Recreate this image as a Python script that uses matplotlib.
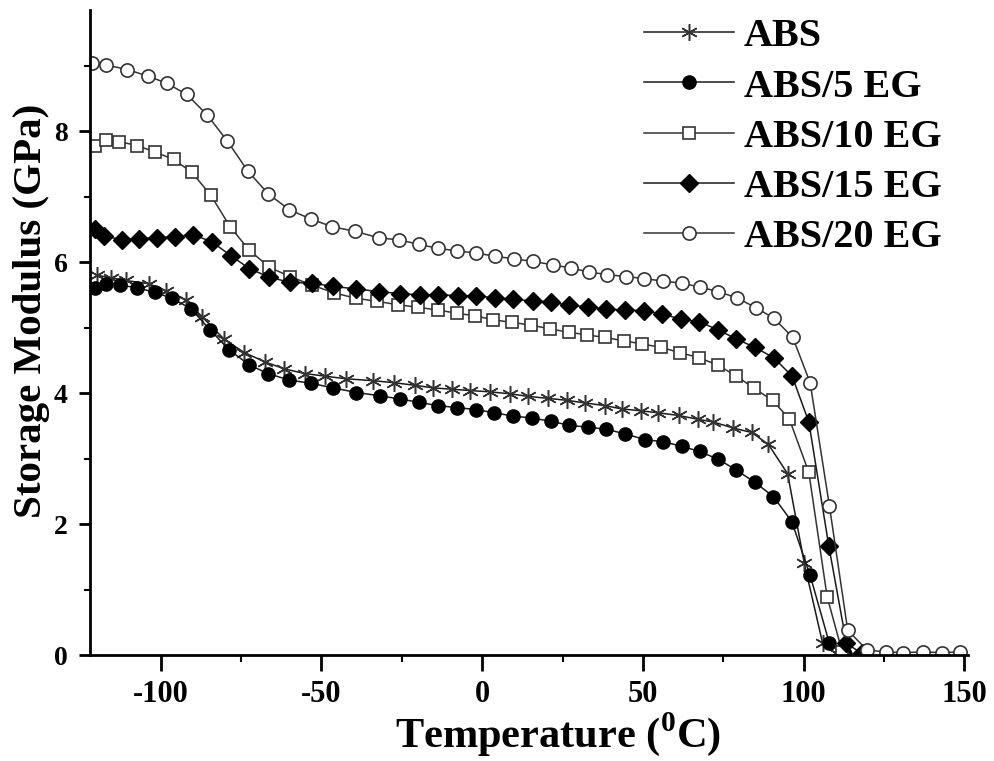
import matplotlib
matplotlib.use("Agg")
import matplotlib.pyplot as plt
from matplotlib.ticker import MultipleLocator

plt.rcParams["font.family"] = ["Liberation Serif", "DejaVu Serif"]
plt.rcParams["font.weight"] = "bold"
plt.rcParams["axes.unicode_minus"] = False
plt.rcParams["mathtext.fontset"] = "custom"
plt.rcParams["mathtext.rm"] = "Liberation Serif:bold"
plt.rcParams["mathtext.bf"] = "Liberation Serif:bold"

# storage modulus (GPa) vs temperature (C)
t_abs = [-119.8, -115.5, -110.9, -103.6, -98.4, -92.2, -87.0, -80.2, -74.0, -67.7, -61.5, -55.2,
         -49.0, -42.5, -33.9, -27.5, -20.9, -15.2, -9.3, -3.8, 2.4, 8.7, 14.4, 20.6, 26.4, 32.1,
         38.1, 43.4, 49.5, 54.7, 61.1, 67.2, 71.9, 77.9, 83.8, 89.0, 95.0, 100.2, 105.9, 110.0]
e_abs = [5.80, 5.76, 5.72, 5.67, 5.56, 5.42, 5.16, 4.82, 4.62, 4.48, 4.37, 4.30,
         4.26, 4.22, 4.19, 4.16, 4.12, 4.08, 4.06, 4.04, 4.02, 3.99, 3.95, 3.92, 3.89, 3.85,
         3.81, 3.76, 3.73, 3.70, 3.66, 3.60, 3.56, 3.47, 3.40, 3.22, 2.77, 1.40, 0.18, 0.03]

t_eg5 = [-120.3, -117.0, -112.7, -107.5, -101.9, -96.6, -90.6, -84.7, -78.7, -72.4, -66.7, -60.0,
         -53.2, -46.3, -39.1, -31.8, -25.5, -19.6, -13.9, -7.9, -2.0, 3.8, 9.7, 15.6, 21.4, 27.1,
         32.9, 38.5, 44.4, 50.6, 56.2, 62.0, 67.6, 73.5, 78.9, 84.8, 90.6, 96.3, 102.0, 108.0, 113.0]
e_eg5 = [5.61, 5.66, 5.65, 5.61, 5.54, 5.45, 5.29, 4.97, 4.66, 4.43, 4.30, 4.20,
         4.15, 4.08, 4.01, 3.96, 3.91, 3.86, 3.81, 3.78, 3.75, 3.70, 3.65, 3.62, 3.57, 3.51,
         3.48, 3.45, 3.38, 3.29, 3.26, 3.19, 3.11, 2.99, 2.83, 2.64, 2.42, 2.04, 1.22, 0.18, 0.02]

t_eg10 = [-120.3, -117.0, -113.0, -107.3, -101.8, -96.0, -90.3, -84.4, -78.4, -72.6, -66.2, -59.7,
          -53.0, -46.0, -39.4, -32.6, -26.2, -19.9, -13.9, -7.9, -2.2, 3.5, 9.2, 15.1, 21.2, 26.9,
          32.6, 38.1, 44.0, 49.8, 55.5, 61.4, 67.5, 73.2, 79.1, 84.4, 90.3, 95.5, 101.6, 107.3, 112.0]
e_eg10 = [7.78, 7.86, 7.84, 7.78, 7.68, 7.57, 7.37, 7.02, 6.54, 6.19, 5.92, 5.78,
          5.65, 5.53, 5.45, 5.40, 5.35, 5.31, 5.27, 5.22, 5.18, 5.12, 5.08, 5.04, 4.98, 4.93,
          4.89, 4.85, 4.80, 4.75, 4.70, 4.62, 4.54, 4.43, 4.26, 4.08, 3.89, 3.61, 2.79, 0.89, 0.05]

t_eg15 = [-120.3, -117.5, -112.0, -106.6, -101.2, -95.5, -89.9, -84.1, -78.2, -72.4, -66.2, -59.7,
          -53.0, -46.4, -39.1, -32.1, -25.5, -19.3, -13.7, -7.6, -1.9, 4.0, 9.7, 15.7, 21.5, 27.1,
          32.9, 38.5, 44.4, 50.3, 56.0, 61.7, 67.5, 73.2, 78.9, 84.8, 90.7, 96.4, 101.6, 107.8,
          113.3, 118.0]
e_eg15 = [6.50, 6.40, 6.34, 6.36, 6.37, 6.39, 6.42, 6.31, 6.10, 5.90, 5.77, 5.69,
          5.68, 5.63, 5.59, 5.55, 5.52, 5.50, 5.50, 5.49, 5.48, 5.46, 5.43, 5.41, 5.39, 5.34,
          5.32, 5.28, 5.27, 5.26, 5.21, 5.13, 5.09, 4.97, 4.83, 4.70, 4.54, 4.26, 3.56, 1.67,
          0.18, 0.03]

t_eg20 = [-121.3, -117.0, -110.4, -104.0, -98.1, -91.9, -85.6, -79.3, -72.9, -66.5, -60.0, -53.4,
          -46.6, -39.5, -32.1, -25.8, -19.6, -13.7, -7.7, -2.0, 4.0, 9.9, 15.9, 21.9, 27.5, 33.1,
          38.8, 44.6, 50.3, 56.2, 62.0, 67.6, 73.5, 79.4, 85.3, 90.8, 96.6, 102.0, 108.0, 113.7,
          119.7, 125.6, 131.0, 137.0, 143.0, 148.5]
e_eg20 = [9.04, 9.01, 8.94, 8.84, 8.73, 8.56, 8.25, 7.85, 7.39, 7.04, 6.80, 6.66,
          6.54, 6.47, 6.37, 6.34, 6.27, 6.21, 6.17, 6.14, 6.09, 6.05, 6.01, 5.96, 5.91, 5.85,
          5.81, 5.78, 5.75, 5.71, 5.68, 5.62, 5.55, 5.45, 5.30, 5.14, 4.85, 4.16, 2.28, 0.38,
          0.08, 0.05, 0.04, 0.05, 0.04, 0.05]

labels = ["ABS", "ABS/5 EG", "ABS/10 EG", "ABS/15 EG", "ABS/20 EG"]

fig = plt.figure(figsize=(9.94, 7.61), dpi=100)
ax = fig.add_axes([0.0905, 0.139, 0.883, 0.848])

lc = "#1a1a1a"
ax.plot(t_abs, e_abs, color=lc, lw=1.1, marker=(6, 2, 0), ms=12, mec="#333333", mew=1.1, label=labels[0])
ax.plot(t_eg5, e_eg5, color=lc, lw=1.1, marker="o", ms=9.5, mfc="black", mec="black", label=labels[1])
ax.plot(t_eg10, e_eg10, color="#333333", lw=1.1, marker="s", ms=8.5, mfc="white", mec="#333333", mew=1.2, label=labels[2])
ax.plot(t_eg15, e_eg15, color=lc, lw=1.1, marker="D", ms=9, mfc="black", mec="black", label=labels[3])
ax.plot(t_eg20, e_eg20, color="#333333", lw=1.1, marker="o", ms=9.5, mfc="white", mec="#333333", mew=1.2, label=labels[4])

ax.set_xlim(-122, 151)
ax.set_ylim(0, 9.85)
ax.xaxis.set_major_locator(MultipleLocator(50))
ax.xaxis.set_minor_locator(MultipleLocator(25))
ax.yaxis.set_major_locator(MultipleLocator(2))
ax.yaxis.set_minor_locator(MultipleLocator(1))
for s in ["top", "right"]:
    ax.spines[s].set_visible(False)
for s in ["left", "bottom"]:
    ax.spines[s].set_linewidth(2)
ax.tick_params(axis="x", which="major", direction="out", length=11.5, width=2, labelsize=22, pad=6)
ax.tick_params(axis="y", which="major", direction="out", length=8, width=2, labelsize=20, pad=8)
ax.tick_params(axis="x", which="minor", direction="out", length=5, width=1.5)
ax.tick_params(axis="y", which="minor", direction="out", length=4, width=1.5)

ax.set_xlabel(r"Temperature ($^{\mathbf{0}}$C)", fontsize=30.5, fontweight="bold")
ax.xaxis.set_label_coords(0.533, -0.086)
ax.set_ylabel("Storage Modulus (GPa)", fontsize=29.5, fontweight="bold")
ax.yaxis.set_label_coords(-0.045, 0.533)

leg = ax.legend(loc="upper right", bbox_to_anchor=(0.989, 1.012), frameon=False, fontsize=29,
                handlelength=2.24, handletextpad=0.25, labelspacing=0.32, borderaxespad=0)
for txt in leg.get_texts():
    txt.set_fontweight("bold")

fig.savefig("out.png", dpi=100)
